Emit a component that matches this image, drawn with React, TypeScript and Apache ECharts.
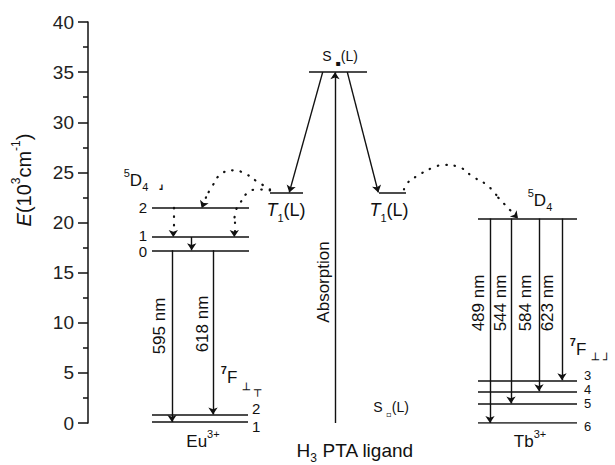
import React, { useEffect, useRef } from "react";
import * as echarts from "echarts";

const FONT = '"Liberation Sans", Arial, Helvetica, sans-serif';
const INK = "#111";

// ---- Energy levels (10^3 cm^-1) ----
const euUpperNames = ["2", "1", "0"]; // 5D_J
const euUpperE = [21.45, 18.55, 17.23];
const euLowerNames = ["2", "1"]; // 7F_J
const euLowerE = [0.84, 0.1];
const ligandS1 = 35;
const ligandT1 = 23;
const ligandS0 = 0;
const tbUpperE = 20.4; // 5D4
const tbLowerNames = ["3", "4", "5", "6"]; // 7F_J
const tbLowerE = [4.26, 3.16, 1.94, 0];

// ---- horizontal placement of each manifold (diagram units) ----
const euSpan = [64, 161];
const euLowSpan = [64, 160];
const s1Span = [221, 279];
const t1LeftSpan = [182, 215];
const t1RightSpan = [291, 318];
const tbSpan = [390, 489];

// ---- emission transitions ----
const euEmissionX = [84, 125];
const euEmissionLabels = ["595 nm", "618 nm"];
const euEmissionTo = [0.1, 0.84];
const tbEmissionX = [402, 423, 451, 474];
const tbEmissionLabels = ["489 nm", "544 nm", "584 nm", "623 nm"];
const tbEmissionTo = [0, 1.94, 3.16, 4.26];

// ---- ligand transitions ----
const absorptionX = 247;
const iscLeft = [[234.7, 35], [201.3, 23]];
const iscRight = [[259.3, 35], [290.3, 23]];

// ---- Eu internal relaxation ----
const euRelax = [
  { x: 85.3, from: 21.45, to: 18.55, dotted: true },
  { x: 103.7, from: 18.55, to: 17.23, dotted: false },
];

// ---- energy-transfer paths (dotted) ----
const transferA = [[182, 23.3], [169, 24.1], [157, 24.88], [145.3, 25.2], [133.7, 24.88], [123.7, 23.54], [118, 22.51]];
const transferAEnd = [113.7, 21.45];
const transferB = [[182, 23.2], [170, 23.3], [159, 22.9], [152, 21.9], [147, 20.9], [146.3, 20.0]];
const transferBEnd = [146.3, 18.55];
const transferC = [[316, 23.3], [318.7, 23.88], [330.3, 24.71], [345.3, 25.48], [357, 25.74], [368.7, 25.61], [385.3, 24.54], [399.3, 23.71], [410.3, 22.48]];
const transferCEnd = [430, 20.4];

type Txt = {
  x: number; y: number; text: string; size?: number; rot?: number;
  align?: string; vAlign?: string; italic?: boolean; lh?: number;
};

function rich(size: number) {
  const s = Math.round(size * 0.62);
  return {
    sup: { fontSize: s, lineHeight: s, verticalAlign: "top", fontFamily: FONT, fill: INK },
    supb: { fontSize: s, lineHeight: s, verticalAlign: "top", fontFamily: FONT, fontWeight: "bold", fill: INK },
    sub: { fontSize: s, lineHeight: s, verticalAlign: "bottom", fontFamily: FONT, fill: INK },
    i: { fontSize: size, fontStyle: "italic", fontFamily: FONT, fill: INK },
    sm: { fontSize: Math.round(size * 0.6), fontWeight: "bold", fontFamily: "DejaVu Sans", fill: INK, verticalAlign: "bottom", lineHeight: s },
  };
}

function txt(t: Txt) {
  const size = t.size ?? 17;
  return {
    type: "text",
    x: t.x,
    y: t.y,
    rotation: t.rot ?? 0,
    silent: true,
    style: {
      text: t.text,
      fontSize: size,
      fontFamily: FONT,
      fontStyle: t.italic ? "italic" : "normal",
      fill: INK,
      align: t.align ?? "center",
      verticalAlign: t.vAlign ?? "middle",
      lineHeight: t.lh ?? size + 8,
      rich: rich(size),
    },
  };
}

function seg(x1: number, y1: number, x2: number, y2: number) {
  return { coords: [[x1, y1], [x2, y2]] };
}

export default function App() {
  const ref = useRef<HTMLDivElement>(null);

  useEffect(() => {
    if (!ref.current) return;
    const chart = echarts.init(ref.current, null, { renderer: "svg" });

    const levelData = [
      ...euUpperE.map((e) => seg(euSpan[0], e, euSpan[1], e)),
      ...euLowerE.map((e) => seg(euLowSpan[0], e, euLowSpan[1], e)),
      seg(s1Span[0], ligandS1, s1Span[1], ligandS1),
      seg(t1LeftSpan[0], ligandT1, t1LeftSpan[1], ligandT1),
      seg(t1RightSpan[0], ligandT1, t1RightSpan[1], ligandT1),
      seg(tbSpan[0], tbUpperE, tbSpan[1], tbUpperE),
      ...tbLowerE.map((e) => seg(tbSpan[0], e, tbSpan[1], e)),
    ];

    const arrowData = [
      ...euEmissionX.map((x, i) => seg(x, euUpperE[2], x, euEmissionTo[i])),
      ...tbEmissionX.map((x, i) => seg(x, tbUpperE, x, tbEmissionTo[i])),
      seg(absorptionX, ligandS0, absorptionX, ligandS1),
      seg(iscLeft[0][0], iscLeft[0][1], iscLeft[1][0], iscLeft[1][1]),
      seg(iscRight[0][0], iscRight[0][1], iscRight[1][0], iscRight[1][1]),
      ...euRelax.filter((r) => !r.dotted).map((r) => seg(r.x, r.from, r.x, r.to)),
    ];

    const dottedArrowData = [
      ...euRelax.filter((r) => r.dotted).map((r) => seg(r.x, r.from, r.x, r.to)),
      seg(transferA[transferA.length - 1][0], transferA[transferA.length - 1][1], transferAEnd[0], transferAEnd[1]),
      seg(transferB[transferB.length - 1][0], transferB[transferB.length - 1][1], transferBEnd[0], transferBEnd[1]),
      seg(transferC[transferC.length - 1][0], transferC[transferC.length - 1][1], transferCEnd[0], transferCEnd[1]),
    ];

    const dotStyle = { color: INK, width: 2.2, type: [0.5, 8], cap: "round" };

    const arc = (data: number[][]) => ({
      type: "line",
      data,
      smooth: 0.5,
      showSymbol: false,
      symbol: "none",
      silent: true,
      lineStyle: dotStyle,
    });

    const texts: Txt[] = [
      { x: 24, y: 180, text: "{i|E}(10{sup|3}cm{sup|-1})", size: 20, rot: Math.PI / 2 },
      // Eu side
      { x: 136, y: 180, text: "{sup|5}D{sub|4}", size: 17 },
      { x: 162, y: 189, text: "{sm|┛}", size: 14 },
      ...euUpperNames.map((n, i) => ({ x: 147, y: [207, 235, 251][i], text: n, size: 15, lh: 13, align: "right" })),
      { x: 159, y: 326, text: euEmissionLabels[0], size: 17, rot: Math.PI / 2 },
      { x: 202, y: 324, text: euEmissionLabels[1], size: 17, rot: Math.PI / 2 },
      { x: 229, y: 377, text: "{supb|7}F", size: 17 },
      { x: 252, y: 390, text: "{sm|┴ ┬}", size: 20 },
      { x: 252, y: 408, text: euLowerNames[0], size: 15, lh: 13, align: "left" },
      { x: 252, y: 426, text: euLowerNames[1], size: 15, lh: 13, align: "left" },
      { x: 203, y: 441, text: "Eu{sup|3+}", size: 17 },
      // ligand
      { x: 340, y: 56, text: "S {sm|▪}(L)", size: 14 },
      { x: 286, y: 210, text: "{i|T}{sub|1}(L)", size: 18 },
      { x: 389, y: 210, text: "{i|T}{sub|1}(L)", size: 18 },
      { x: 323, y: 282, text: "Absorption", size: 17, rot: Math.PI / 2 },
      { x: 391, y: 407, text: "S {sm|▫}(L)", size: 14 },
      { x: 355, y: 450, text: "H{sub|3} PTA ligand", size: 19 },
      // Tb side
      { x: 540, y: 200, text: "{sup|5}D{sub|4}", size: 17 },
      ...tbEmissionX.map((x, i) => ({ x: [478.5, 500, 525, 547][i], y: 303, text: tbEmissionLabels[i], size: 17, rot: Math.PI / 2 })),
      { x: 578, y: 349, text: "{supb|7}F", size: 17 },
      { x: 601, y: 360, text: "{sm|┴ ┘}", size: 20 },
      ...tbLowerNames.map((n, i) => ({ x: 584, y: [375, 389, 403, 426][i], text: n, size: 13, lh: 11, align: "left" })),
      { x: 530, y: 441, text: "Tb{sup|3+}", size: 17 },
    ];

    chart.setOption({
      animation: false,
      backgroundColor: "#fff",
      grid: { left: 88, top: 22, width: 527, height: 401, containLabel: false },
      xAxis: { type: "value", min: 0, max: 527, show: false },
      yAxis: {
        type: "value",
        min: 0,
        max: 40,
        interval: 5,
        axisLine: { show: true, lineStyle: { color: INK, width: 1.5 } },
        axisTick: { show: true, inside: false, length: 10, lineStyle: { color: INK, width: 1.5 } },
        minorTick: { show: true, splitNumber: 2, length: 5, lineStyle: { color: INK, width: 1.5 } },
        axisLabel: { fontSize: 19, color: "#222", fontFamily: FONT, margin: 14 },
        splitLine: { show: false },
      },
      series: [
        {
          type: "lines",
          coordinateSystem: "cartesian2d",
          silent: true,
          symbol: "none",
          lineStyle: { color: INK, width: 1.7, opacity: 1 },
          data: levelData,
        },
        {
          type: "lines",
          coordinateSystem: "cartesian2d",
          silent: true,
          symbol: ["none", "arrow"],
          symbolSize: [0, 7],
          lineStyle: { color: INK, width: 1.4, opacity: 1 },
          data: arrowData,
        },
        {
          type: "lines",
          coordinateSystem: "cartesian2d",
          silent: true,
          symbol: ["none", "arrow"],
          symbolSize: [0, 7],
          lineStyle: { ...dotStyle, opacity: 1 },
          data: dottedArrowData,
        },
        arc(transferA),
        arc(transferB),
        arc(transferC),
      ],
      graphic: texts.map(txt),
    });

    return () => chart.dispose();
  }, []);

  return (
    <div
      ref={ref}
      style={{ position: "fixed", left: 0, top: 0, width: 615, height: 465, background: "#fff" }}
    />
  );
}
